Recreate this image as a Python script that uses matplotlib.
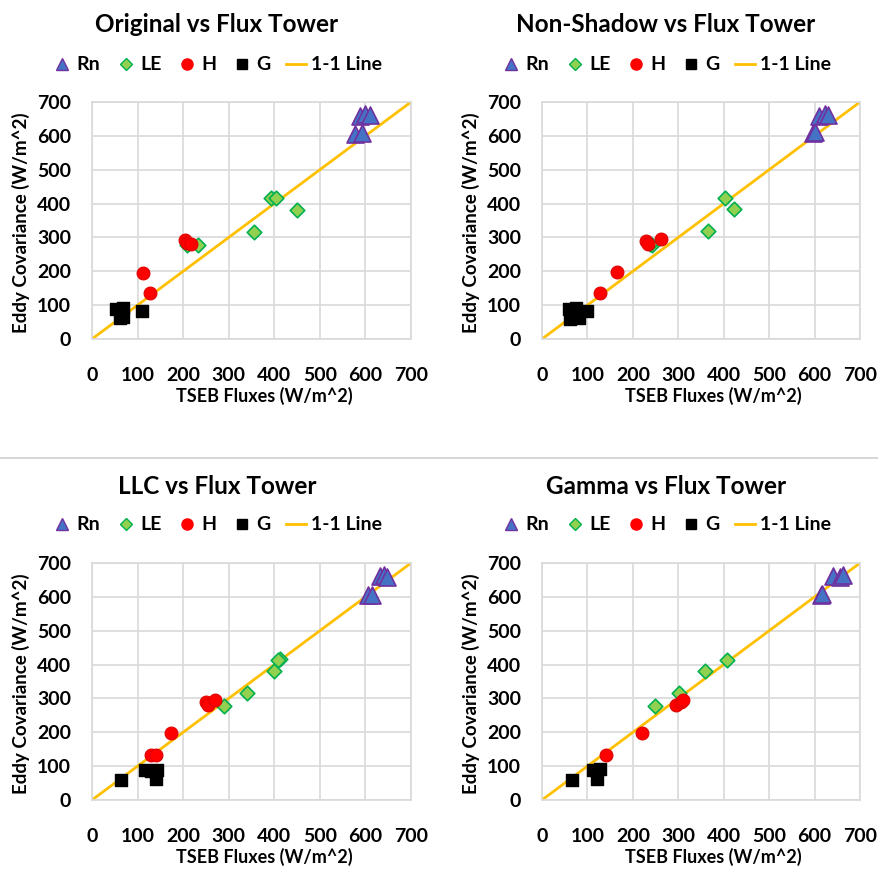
import matplotlib
matplotlib.use('Agg')
import matplotlib.pyplot as plt
from matplotlib.lines import Line2D

plt.rcParams['font.family'] = ['Lato', 'DejaVu Sans']
plt.rcParams['font.weight'] = 'bold'

# valores (x = TSEB, y = Eddy Covariance)
titles = ['Original vs Flux Tower', 'Non-Shadow vs Flux Tower',
          'LLC vs Flux Tower', 'Gamma vs Flux Tower']

rn_x = [[588, 599, 610, 577, 592],
        [610, 622, 630, 597, 600],
        [632, 641, 648, 606, 614],
        [641, 656, 663, 614, 616]]
rn_y = [[658, 665, 663, 606, 608],
        [660, 665, 663, 608, 610],
        [662, 664, 658, 606, 606],
        [662, 658, 664, 606, 608]]

le_x = [[392, 403, 450, 355, 209, 233],
        [402, 422, 366, 242, 238],
        [412, 408, 399, 340, 289],
        [408, 358, 301, 248]]
le_y = [[416, 416, 382, 317, 278, 278],
        [416, 383, 320, 278, 282],
        [416, 413, 380, 317, 278],
        [414, 380, 317, 278]]

h_x = [[204, 209, 218, 111, 127],
       [230, 234, 261, 164, 127],
       [250, 255, 269, 174, 130, 140],
       [296, 307, 311, 220, 141]]
h_y = [[293, 285, 281, 196, 135],
       [288, 281, 296, 199, 135],
       [288, 281, 294, 197, 133, 133],
       [281, 288, 296, 199, 133]]

g_x = [[53, 68, 61, 68, 110],
       [60, 74, 62, 82, 99],
       [63, 116, 130, 143, 140],
       [66, 112, 127, 120]]
g_y = [[89, 91, 61, 66, 84],
       [89, 91, 58, 63, 84],
       [59, 89, 87, 89, 61],
       [59, 89, 91, 61]]

ticks = [0, 100, 200, 300, 400, 500, 600, 700]

W, H = 879, 871
fig = plt.figure(figsize=(W / 100, H / 100), dpi=100)

# posiciones de los paneles en pixeles (izq, arriba, der, abajo)
boxes = [(92, 102, 411, 339), (542, 102, 860, 339),
         (92, 563, 411, 800), (542, 563, 860, 800)]
centers = [217, 666, 217, 666]
title_y = [25, 25, 486, 486]
legend_y = [65, 65, 525, 525]

for i in range(4):
    l, t, r, b = boxes[i]
    ax = fig.add_axes([l / W, 1 - b / H, (r - l) / W, (b - t) / H])
    ax.set_xlim(0, 700)
    ax.set_ylim(0, 700)
    ax.set_xticks(ticks)
    ax.set_yticks(ticks)
    ax.grid(True, color='#D9D9D9', lw=1.2)
    ax.set_axisbelow(True)
    for s in ax.spines.values():
        s.set_color('#D9D9D9')
        s.set_linewidth(1.2)
    ax.tick_params(length=0, labelsize=14, pad=15)
    ax.tick_params(axis='x', pad=20)
    ax.plot([0, 700], [0, 700], color='#FFC000', lw=2, zorder=2)
    ax.scatter(g_x[i], g_y[i], marker='s', s=75, color='black', zorder=3)
    ax.scatter(h_x[i], h_y[i], marker='o', s=85, color='#FF0000',
               edgecolors='#E00000', lw=0.8, zorder=4)
    ax.scatter(le_x[i], le_y[i], marker='D', s=55, color='#92D050',
               edgecolors='#00B050', lw=1.2, zorder=3)
    ax.scatter(rn_x[i], rn_y[i], marker='^', s=150, color='#4472C4',
               edgecolors='#7030A0', lw=1.2, zorder=5)
    ax.set_xlabel('TSEB Fluxes (W/m^2)', fontsize=13, fontweight='bold')
    ax.set_ylabel('Eddy Covariance (W/m^2)', fontsize=13.5, fontweight='bold')
    ax.xaxis.set_label_coords(0.54, -0.2)
    ax.yaxis.set_label_coords(-0.195, 0.49)

    fig.text(centers[i] / W, 1 - title_y[i] / H, titles[i], fontsize=17.5,
             fontweight='bold', ha='center', va='center')

    handles = [Line2D([], [], marker='^', ls='', ms=9, color='#4472C4',
                      markeredgecolor='#7030A0'),
               Line2D([], [], marker='D', ls='', ms=6.5, color='#92D050',
                      markeredgecolor='#00B050'),
               Line2D([], [], marker='o', ls='', ms=8, color='#FF0000'),
               Line2D([], [], marker='s', ls='', ms=6.5, color='black'),
               Line2D([], [], color='#FFC000', lw=2)]
    fig.legend(handles, ['Rn', 'LE', 'H', 'G', '1-1 Line'], ncol=5,
               loc='center', bbox_to_anchor=(centers[i] / W, 1 - legend_y[i] / H),
               frameon=False, handlelength=1.0, handletextpad=0.25,
               columnspacing=0.8, borderpad=0.2,
               prop={'weight': 'bold', 'size': 14})

# linea separadora
fig.add_artist(Line2D([0, 1], [1 - 458 / H, 1 - 458 / H], color='#D0D0D0',
                      lw=1.2, transform=fig.transFigure))

plt.savefig('out.png', dpi=100)
